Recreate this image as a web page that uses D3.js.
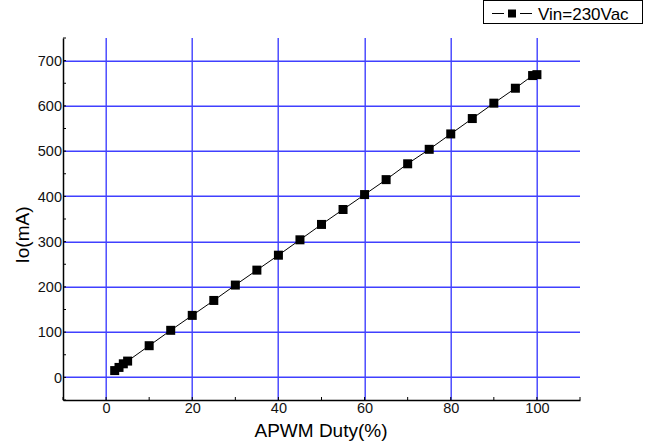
<!DOCTYPE html>
<html>
<head>
<meta charset="utf-8">
<script src="https://cdn.jsdelivr.net/npm/d3@7"></script>
<style>
  body { margin: 0; background: #fff; }
  text { font-family: "Liberation Sans", Arial, sans-serif; }
</style>
</head>
<body>
<script>
// data
const duty = [2, 3, 4, 5, 10, 15, 20, 25, 30, 35, 40, 45, 50, 55, 60, 65, 70, 75, 80, 85, 90, 95, 99, 100]
const io = [15, 22, 30, 36, 70, 104, 137, 170, 204, 237, 270, 304, 338, 371, 404, 437, 472, 504, 538, 572, 606, 639, 667, 669]
const xTicks = [0, 20, 40, 60, 80, 100]
const yTicks = [0, 100, 200, 300, 400, 500, 600, 700]
const seriesName = "Vin=230Vac"

const width = 652, height = 442

const svg = d3.select("body").append("svg")
    .attr("width", width)
    .attr("height", height)

const x = d3.scaleLinear().domain([-10, 110]).range([63, 580])
const y = d3.scaleLinear().domain([-50, 750]).range([400, 38])

// grid
const grid = svg.append("g").attr("stroke", "#4040ff").attr("stroke-width", 1.4)
grid.selectAll(".vg").data(xTicks).enter().append("line")
    .attr("x1", d => Math.round(x(d)) + 0.2).attr("x2", d => Math.round(x(d)) + 0.2)
    .attr("y1", y.range()[1]).attr("y2", y.range()[0])
grid.selectAll(".hg").data(yTicks).enter().append("line")
    .attr("y1", d => Math.round(y(d)) + 0.2).attr("y2", d => Math.round(y(d)) + 0.2)
    .attr("x1", x.range()[0]).attr("x2", x.range()[1])

// axes
const xAxis = svg.append("g").attr("transform", `translate(0,${y.range()[0]})`)
    .call(d3.axisBottom(x).tickValues(xTicks).tickSize(0).tickPadding(3))
const yAxis = svg.append("g").attr("transform", `translate(${x.range()[0]},0)`)
    .call(d3.axisLeft(y).tickValues(yTicks).tickSize(0).tickPadding(1))

;[xAxis, yAxis].forEach(g => {
    g.select(".domain").attr("stroke", "#000").attr("stroke-width", 1.5)
    g.selectAll("text").attr("font-size", 14.5).attr("fill", "#111")
        .style("font-family", "'Liberation Sans', Arial, sans-serif")
})

// inward minor ticks
svg.append("g").selectAll("line")
    .data(d3.range(-10, 111, 10))
    .enter().append("line")
    .attr("x1", d => x(d)).attr("x2", d => x(d))
    .attr("y1", y.range()[0]).attr("y2", y.range()[0] - 3)
    .attr("stroke", "#000")
svg.append("g").selectAll("line")
    .data(d3.range(-50, 751, 50))
    .enter().append("line")
    .attr("y1", d => y(d)).attr("y2", d => y(d))
    .attr("x1", x.range()[0]).attr("x2", x.range()[0] + 3)
    .attr("stroke", "#000")

// series
const pts = duty.map((d, i) => [d, io[i]])
svg.append("path")
    .datum(pts)
    .attr("fill", "none")
    .attr("stroke", "#000")
    .attr("stroke-width", 1)
    .attr("d", d3.line().x(d => x(d[0])).y(d => y(d[1])))

svg.append("g").selectAll("rect")
    .data(pts)
    .enter().append("rect")
    .attr("x", d => x(d[0]) - 4.5)
    .attr("y", d => y(d[1]) - 4.5)
    .attr("width", 9)
    .attr("height", 9)
    .attr("fill", "#000")

// axis titles
svg.append("text")
    .attr("x", 321).attr("y", 437)
    .attr("text-anchor", "middle")
    .attr("font-size", 19)
    .text("APWM Duty(%)")
svg.append("text")
    .attr("transform", "translate(29,235) rotate(-90)")
    .attr("text-anchor", "middle")
    .attr("font-size", 19)
    .text("Io(mA)")

// legend
const lg = svg.append("g")
lg.append("rect")
    .attr("x", 483.5).attr("y", 0.5)
    .attr("width", 159).attr("height", 23)
    .attr("fill", "#fff").attr("stroke", "#000")
lg.selectAll("line").data([[492, 504], [520, 532]]).enter().append("line")
    .attr("x1", d => d[0]).attr("x2", d => d[1]).attr("y1", 13.5).attr("y2", 13.5)
    .attr("stroke", "#000")
lg.append("rect")
    .attr("x", 508).attr("y", 9.5).attr("width", 8).attr("height", 8)
    .attr("fill", "#000")
lg.append("text")
    .attr("x", 538).attr("y", 20)
    .attr("font-size", 17)
    .text(seriesName)
</script>
</body>
</html>
